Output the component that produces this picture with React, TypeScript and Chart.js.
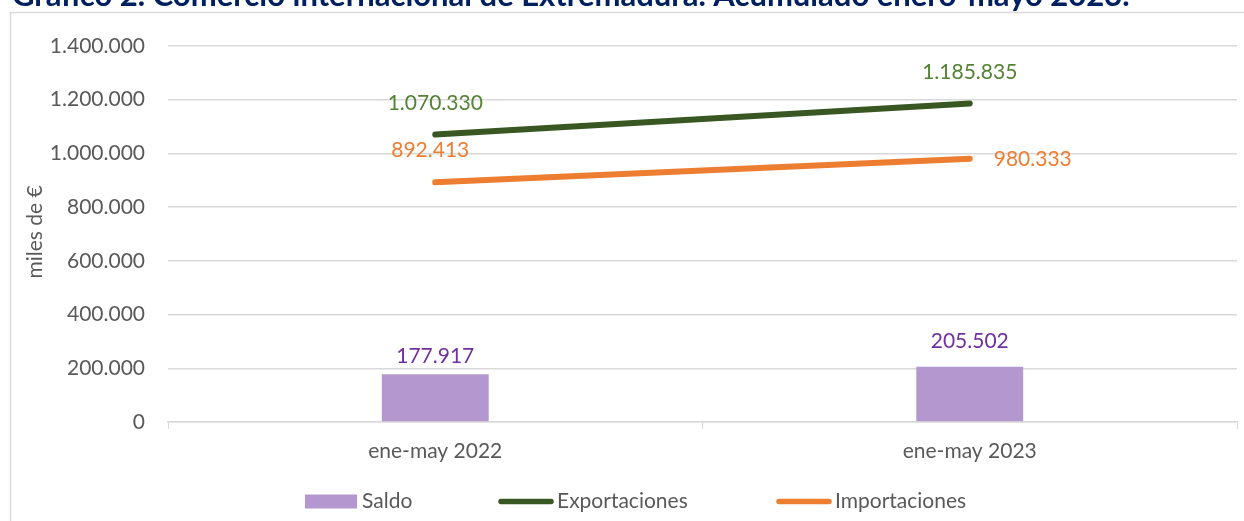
import React, { useEffect, useRef } from "react";
import { Chart, registerables } from "chart.js";

Chart.register(...registerables);

const categories = ["ene-may 2022", "ene-may 2023"];
const saldo = [177917, 205502];
const exportaciones = [1070330, 1185835];
const importaciones = [892413, 980333];
const yMin = 0;
const yMax = 1400000;
const yStep = 200000;
const titleText = "Gráfico 2. Comercio internacional de Extremadura. Acumulado enero-mayo 2023.";
const yAxisTitle = "miles de €";
const legendLabels = ["Saldo", "Exportaciones", "Importaciones"];

const FONT = "Lato, 'Open Sans', sans-serif";
const GRID = "#d9d9d9";
const TEXT = "#595959";
const C_SALDO = "#b497cf";
const C_EXP = "#385723";
const C_IMP = "#ed7d31";
const L_SALDO = "#7030a0";
const L_EXP = "#548235";
const L_IMP = "#ed7d31";

const fmt = (v: number) => {
  const s = Math.round(Math.abs(v)).toString().replace(/\B(?=(\d{3})+(?!\d))/g, ".");
  return (v < 0 ? "-" : "") + s;
};

// label offsets (dx, dy) relative to each element, per dataset
const labelOffsets: Record<string, [number, number][]> = {
  Saldo: [[0, -18], [0, -26]],
  Exportaciones: [[0, -31], [0, -31]],
  Importaciones: [[-5, -32], [63, 1]],
};
const labelColors: Record<string, string> = {
  Saldo: L_SALDO,
  Exportaciones: L_EXP,
  Importaciones: L_IMP,
};

const framePlugin = {
  id: "frame",
  beforeDraw(chart: any) {
    const { ctx, width, height } = chart;
    ctx.save();
    ctx.fillStyle = "#ffffff";
    ctx.fillRect(0, 0, width, height);
    ctx.strokeStyle = GRID;
    ctx.lineWidth = 1.5;
    ctx.beginPath();
    ctx.moveTo(10.5, height + 2);
    ctx.lineTo(10.5, 12.5);
    ctx.lineTo(width + 2, 12.5);
    ctx.stroke();
    ctx.restore();
  },
  afterDraw(chart: any) {
    const { ctx } = chart;
    ctx.save();
    // title (clipped at top as in the reference)
    ctx.font = `bold 24px ${FONT}`;
    const w = ctx.measureText(titleText).width;
    const size = (24 * 1118) / w;
    ctx.font = `bold ${size}px ${FONT}`;
    ctx.fillStyle = "#002060";
    ctx.textAlign = "left";
    ctx.textBaseline = "alphabetic";
    ctx.fillText(titleText, 12, 6);

    // y axis title
    ctx.font = `21px ${FONT}`;
    ctx.fillStyle = TEXT;
    ctx.translate(35, (chart.chartArea.top + chart.chartArea.bottom) / 2 - 2);
    ctx.rotate(-Math.PI / 2);
    ctx.textAlign = "center";
    ctx.textBaseline = "middle";
    ctx.fillText(yAxisTitle, 0, 0);
    ctx.restore();

    // legend
    ctx.save();
    ctx.font = `21px ${FONT}`;
    ctx.fillStyle = TEXT;
    ctx.textBaseline = "middle";
    ctx.textAlign = "left";
    const ly = 501.5;
    const starts = [305, 498, 776];
    const colors = [C_SALDO, C_EXP, C_IMP];
    legendLabels.forEach((lab, i) => {
      const x = starts[i];
      if (i === 0) {
        ctx.fillStyle = colors[i];
        ctx.fillRect(x, ly - 7, 52, 14);
        ctx.fillStyle = TEXT;
        ctx.fillText(lab, x + 57, ly);
      } else {
        ctx.strokeStyle = colors[i];
        ctx.lineWidth = 5.5;
        ctx.lineCap = "round";
        ctx.beginPath();
        ctx.moveTo(x + 3, ly);
        ctx.lineTo(x + 53, ly);
        ctx.stroke();
        ctx.fillStyle = TEXT;
        ctx.fillText(lab, x + 59, ly);
      }
    });
    ctx.restore();
  },
};

const labelPlugin = {
  id: "valueLabels",
  afterDatasetsDraw(chart: any) {
    const { ctx } = chart;
    ctx.save();
    ctx.font = `21px ${FONT}`;
    ctx.textAlign = "center";
    ctx.textBaseline = "middle";
    chart.data.datasets.forEach((ds: any, di: number) => {
      const meta = chart.getDatasetMeta(di);
      const offs = labelOffsets[ds.label] || [];
      ctx.fillStyle = labelColors[ds.label] || TEXT;
      meta.data.forEach((el: any, i: number) => {
        const [dx, dy] = offs[i] || [0, -20];
        ctx.fillText(fmt(ds.data[i]), el.x + dx, el.y + dy);
      });
    });
    ctx.restore();
  },
};

export default function App() {
  const ref = useRef<HTMLCanvasElement | null>(null);
  useEffect(() => {
    if (!ref.current) return;
    const chart = new Chart(ref.current, {
      type: "bar",
      data: {
        labels: categories,
        datasets: [
          {
            type: "line",
            label: "Exportaciones",
            data: exportaciones,
            borderColor: C_EXP,
            backgroundColor: C_EXP,
            borderWidth: 6,
            borderCapStyle: "round",
            pointRadius: 0,
            order: 1,
          } as any,
          {
            type: "line",
            label: "Importaciones",
            data: importaciones,
            borderColor: C_IMP,
            backgroundColor: C_IMP,
            borderWidth: 6,
            borderCapStyle: "round",
            pointRadius: 0,
            order: 2,
          } as any,
          {
            type: "bar",
            label: "Saldo",
            data: saldo,
            backgroundColor: C_SALDO,
            categoryPercentage: 0.2,
            barPercentage: 1,
            order: 3,
          } as any,
        ],
      },
      options: {
        responsive: false,
        animation: false,
        layout: { padding: { top: 46, right: 7, left: 0, bottom: 0 } },
        plugins: {
          legend: { display: false },
          tooltip: { enabled: false },
          title: { display: false },
        },
        scales: {
          x: {
            offset: true,
            grid: {
              offset: true,
              drawOnChartArea: false,
              drawTicks: true,
              tickLength: 7,
              color: GRID,
            },
            border: { color: GRID, width: 1.5 },
            ticks: {
              font: { family: FONT, size: 21 },
              color: TEXT,
              padding: 10,
            },
            afterFit(scale: any) {
              scale.height = 99;
            },
          },
          y: {
            min: yMin,
            max: yMax,
            grid: { color: GRID, lineWidth: 1.5, drawTicks: false },
            border: { display: false },
            ticks: {
              stepSize: yStep,
              font: { family: FONT, size: 21 },
              color: TEXT,
              padding: 23,
              callback: (v: any) => fmt(Number(v)),
            },
            afterFit(scale: any) {
              scale.width = 168;
            },
          },
        },
      },
      plugins: [framePlugin, labelPlugin],
    });
    return () => chart.destroy();
  }, []);
  return (
    <div style={{ position: "fixed", left: 0, top: 0, width: 1244, height: 521, background: "#fff" }}>
      <canvas ref={ref} width={1244} height={521} style={{ display: "block" }} />
    </div>
  );
}
